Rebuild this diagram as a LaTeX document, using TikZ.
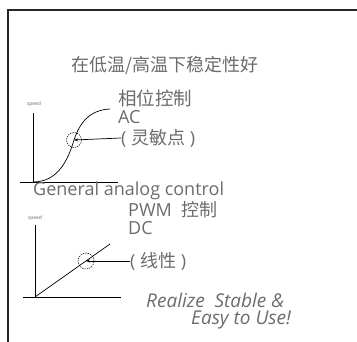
\documentclass[tikz,border=0pt]{standalone}
\usepackage{fontspec}
\usetikzlibrary{arrows.meta,positioning}
\setmainfont{Open Sans}
\newfontfamily\cjk{Noto Sans CJK SC}
\definecolor{txtgray}{HTML}{6C6C6C}

\begin{document}
\begin{tikzpicture}[x=1pt, y=-1pt,
    lbl/.style={inner sep=0pt, anchor=west, text=txtgray, font=\fontsize{18}{18}\selectfont},
    tiny/.style={inner sep=0pt, text=txtgray, font=\fontsize{5}{5}\selectfont},
    spot/.style={draw, dashed, dash pattern=on 1.4pt off 1pt, line width=0.5pt}]
  \useasboundingbox (0,0) rectangle (357,342);
  % frame (top and left edges only)
  \draw[line width=1.2pt, black!85] (357,10) -- (8,10) -- (8,342);

  \node[lbl, anchor=center] (title) at (165,65) {\cjk 在低温/高温下稳定性好};

  % upper graph: AC, phase control
  \node[tiny] (sp1) at (34,104) {speed};
  \coordinate (o1) at (33,182);
  \draw[line width=0.8pt] (33,113) -- (o1);
  \draw[line width=0.8pt] (20,182) -- (118,182);
  \draw[line width=0.7pt] (o1) .. controls (58,182) and (68,160) .. (74,140)
                                .. controls (80,122) and (90,110) .. (110,109);
  \node[spot, circle, minimum size=15pt, inner sep=0pt] (c1) at (74,140) {};
  \node[lbl, font=\fontsize{18.5}{18}\selectfont] (phase) at (118,98) {\cjk 相位控制};
  \node[lbl] (ac) at (118,117) {AC};
  \node[lbl] (sens) at (121,138) {( {\cjk 灵敏点} )};
  \draw[line width=0.7pt, -{Stealth[length=4pt, width=3pt]}] (sens.west) -- (c1.center);

  \node[lbl] (gen) at (33,191) {General analog control};

  % lower graph: DC, PWM control
  \node[tiny] (sp2) at (35,218) {speed};
  \coordinate (o2) at (35,297);
  \draw[line width=0.8pt] (35,225) -- (o2);
  \draw[line width=0.8pt] (23,297) -- (121,297);
  \draw[line width=0.7pt] (o2) -- (110,244);
  \node[spot, circle, minimum size=16pt, inner sep=0pt] (c2) at (86,261) {};
  \node[lbl] (pwm) at (128,210) {PWM\ \ {\cjk 控制}};
  \node[lbl] (dc) at (128,228) {DC};
  \node[lbl] (lin) at (130,261) {( {\cjk 线性} )};
  \draw[line width=0.7pt, -{Stealth[length=4pt, width=3pt]}] (lin.west) -- (c2.center);

  \node[lbl, font=\fontsize{19}{19}\selectfont\itshape] (slogan1) at (146,300) {Realize\ \ Stable \&};
  \node[lbl, font=\fontsize{19}{19}\selectfont\itshape] (slogan2) at (191,320) {Easy to Use!};
\end{tikzpicture}
\end{document}
